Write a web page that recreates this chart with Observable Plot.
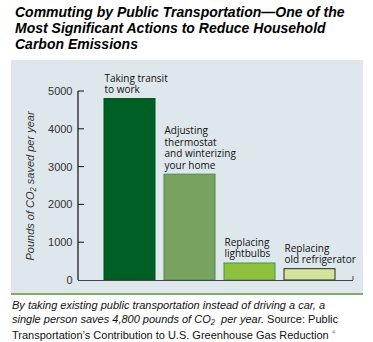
<!DOCTYPE html>
<html>
<head>
<meta charset="utf-8">
<script src="https://cdn.jsdelivr.net/npm/d3@7"></script>
<script src="https://cdn.jsdelivr.net/npm/@observablehq/plot@0.6"></script>
<style>
  body { margin: 0; background: #fff; font-family: "Liberation Sans", Arial, sans-serif; }
  #title { position: absolute; left: 15px; top: 4px; width: 350px; font-weight: bold; font-style: italic; font-size: 14px; line-height: 16px; color: #000; }
  #panel { position: absolute; left: 11px; top: 60px; width: 352px; height: 233px; background: #dde7ec; border-bottom: 2px solid #7fae63; }
  #caption { position: absolute; left: 12px; top: 299px; width: 361px; font-size: 11px; line-height: 13.5px; color: #111; white-space: nowrap; }
  #caption sup { font-size: 6px; color: #888; }
  svg [aria-label="y-axis label"] text { font-style: italic; }
</style>
</head>
<body>
<div id="title">Commuting by Public Transportation—One of the Most Significant Actions to Reduce Household Carbon Emissions</div>
<div id="panel"></div>
<div id="caption"><i>By taking existing public transportation instead of driving a car, a</i><br><i>single person saves 4,800 pounds of CO₂&nbsp; per year.</i> Source: Public<br>Transportation’s Contribution to U.S. Greenhouse Gas Reduction <sup>4</sup></div>
<script>
const categories = ["Taking transit to work", "Adjusting thermostat and winterizing your home", "Replacing lightbulbs", "Replacing old refrigerator"];
const labels = ["Taking transit\nto work", "Adjusting\nthermostat\nand winterizing\nyour home", "Replacing\nlightbulbs", "Replacing\nold refrigerator"];
const values = [4800, 2800, 450, 300];
const fills = ["#005f25", "#78a260", "#8dc13f", "#d2e49a"];
const strokes = ["#00521f", "#4d8a4d", "#3f9a3a", "#2a2a2a"];
const yTicks = [0, 1000, 2000, 3000, 4000, 5000];

const data = categories.map((c, i) => ({cat: c, label: labels[i], value: values[i], fill: fills[i], stroke: strokes[i]}));
const NS = "http://www.w3.org/2000/svg";
const line = (x1, y1, x2, y2, stroke, w) => {
  const l = document.createElementNS(NS, "line");
  l.setAttribute("x1", x1); l.setAttribute("x2", x2);
  l.setAttribute("y1", y1); l.setAttribute("y2", y2);
  l.setAttribute("stroke", stroke); l.setAttribute("stroke-width", w);
  return l;
};

// Decorative axis furniture positioned from the scales and frame dimensions
const axisFurniture = (index, scales, values, dims) => {
  const g = document.createElementNS(NS, "g");
  const x0 = dims.marginLeft;
  const x1 = dims.width - dims.marginRight;
  const y0 = scales.y(0);
  g.appendChild(line(x0, scales.y(yTicks[yTicks.length - 1]), x0, y0, "#111", 1.2));
  for (const t of yTicks.slice(1)) g.appendChild(line(x0, scales.y(t), x0 + 6, scales.y(t), "#111", 1));
  g.appendChild(line(x1, y0, x1, y0 - 4, "#444", 1));
  return g;
};

const chart = Plot.plot({
  width: 352,
  height: 233,
  marginLeft: 67,
  marginRight: 10,
  marginTop: 31,
  marginBottom: 13,
  style: {background: "transparent", fontFamily: "'Liberation Sans', Arial, sans-serif", fontSize: "11px", color: "#333"},
  x: {type: "band", domain: categories, range: [93, 324], paddingInner: 0.15, paddingOuter: 0, axis: null},
  y: {domain: [0, 5000], label: null},
  marks: [
    Plot.barY(data, {x: "cat", y: "value", fill: "fill", stroke: "stroke", strokeWidth: 1}),
    Plot.ruleY([0], {stroke: "#444", strokeWidth: 1.2}),
    axisFurniture,
    Plot.axisY({ticks: yTicks, tickSize: 0, tickPadding: 6, tickFormat: d => String(d), label: "Pounds of CO₂ saved per year", labelAnchor: "center", labelOffset: 52, labelArrow: "none"}),
    Plot.text(data, {x: "cat", y: "value", text: "label", textAnchor: "start", lineAnchor: "bottom", dx: -25.5, dy: -6, lineHeight: 1.15, fontSize: 10, fontFamily: "'Open Sans', sans-serif", fill: "#111"})
  ]
});
document.getElementById("panel").appendChild(chart);
</script>
</body>
</html>
